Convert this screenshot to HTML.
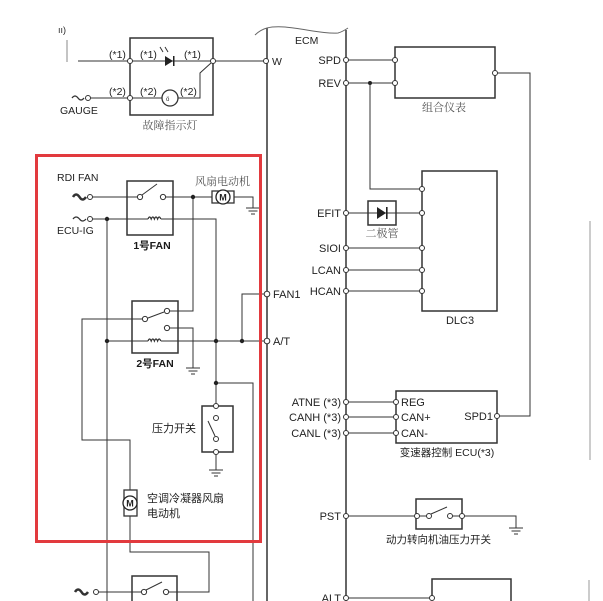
<!DOCTYPE html>
<html><head><meta charset="utf-8"><style>
html,body{margin:0;padding:0;background:#fff;}
svg{display:block;}
text{font-family:"Liberation Sans","Noto Sans CJK SC",sans-serif;fill:#222;}
.cn{font-family:"Liberation Serif","Noto Serif CJK SC",serif;fill:#555;font-size:11px;}
.cs{font-family:"Liberation Sans","Noto Sans CJK SC",sans-serif;fill:#222;font-size:10.5px;font-weight:normal;}
.cb{font-family:"Liberation Sans","Noto Sans CJK SC",sans-serif;fill:#1a1a1a;font-size:10.5px;font-weight:bold;}
</style></head><body>
<svg width="603" height="601" viewBox="0 0 603 601" xmlns="http://www.w3.org/2000/svg">
<rect width="603" height="601" fill="#fff"/>
<g stroke="#333" stroke-width="1" fill="none">
<!-- top section -->
<line x1="67" y1="40" x2="67" y2="62" stroke="#888"/>
<line x1="78" y1="61" x2="266" y2="61"/>
<rect x="130" y="38" width="83" height="77" stroke-width="1.5"/>
<line x1="88" y1="98" x2="162" y2="98"/>
<circle cx="170" cy="98" r="8" stroke-width="1.3"/>
<polyline points="178,98 200,98 200,73 211,63"/>
<path d="M72,98 q3,-4 6,0 q3,4 6,0" stroke-width="1.3"/>
<path d="M163,52 l-3,-5 M168,52 l-3,-5" stroke-width="1"/>
<!-- ECM -->
<line x1="267" y1="28" x2="267" y2="601" stroke-width="1.5"/>
<line x1="346" y1="30" x2="346" y2="601" stroke-width="1.5"/>
<path d="M255,35 C262,28 270,26 285,27 C305,29 325,34 338,33 C342,32 345,30 348,28" stroke="#666"/>
<!-- right side -->
<line x1="346" y1="60" x2="395" y2="60"/>
<line x1="346" y1="83" x2="395" y2="83"/>
<rect x="395" y="47" width="100" height="51" stroke-width="1.5"/>
<polyline points="495,73 530,73 530,416 497,416"/>
<polyline points="370,83 370,189 422,189"/>
<rect x="422" y="171" width="75" height="140" stroke-width="1.5"/>
<line x1="346" y1="213" x2="422" y2="213"/>
<rect x="368" y="201" width="28" height="24" stroke-width="1.5" fill="none"/>
<line x1="346" y1="248" x2="422" y2="248"/>
<line x1="346" y1="270" x2="422" y2="270"/>
<line x1="346" y1="291" x2="422" y2="291"/>
<rect x="396" y="391" width="101" height="52" stroke-width="1.5"/>
<line x1="346" y1="402" x2="396" y2="402"/>
<line x1="346" y1="417" x2="396" y2="417"/>
<line x1="346" y1="433" x2="396" y2="433"/>
<line x1="346" y1="516" x2="417" y2="516"/>
<rect x="416" y="499" width="46" height="30" stroke-width="1.5"/>
<line x1="417" y1="516" x2="429" y2="516"/>
<line x1="450" y1="516" x2="462" y2="516"/>
<line x1="431" y1="514" x2="447" y2="507"/>
<polyline points="462,516 516,516 516,528"/>
<line x1="509" y1="528" x2="523" y2="528"/><line x1="511.5" y1="531" x2="520.5" y2="531"/><line x1="514" y1="534" x2="518" y2="534"/>
<line x1="346" y1="598" x2="432" y2="598"/>
<polyline points="432,598 432,579 511,579 511,601" stroke-width="1.5"/>
<line x1="590" y1="221" x2="590" y2="460" stroke="#999"/>
<line x1="589" y1="580" x2="589" y2="601" stroke="#999"/>
<!-- left subsystem -->
<path d="M73,197 q3,-5 6.5,0 q3,5 6.5,0" stroke-width="2.5"/>
<line x1="90" y1="197" x2="140" y2="197"/>
<rect x="127" y="181" width="46" height="54" stroke-width="1.5"/>
<line x1="142" y1="195" x2="157" y2="184"/>
<line x1="163" y1="197" x2="212" y2="197"/>
<rect x="212" y="191" width="22" height="12" stroke-width="1.3"/>
<polyline points="234,197 253,197 253,208"/>
<line x1="246" y1="208" x2="260" y2="208"/><line x1="248.5" y1="211" x2="257.5" y2="211"/><line x1="251" y1="214" x2="255" y2="214"/>
<path d="M73,219 q3,-4 6.5,0 q3,4 6.5,0" stroke-width="1.3"/>
<line x1="90" y1="219" x2="148" y2="219"/>
<path d="M148,219 q1.6,-4 3.2,0 q1.6,-4 3.2,0 q1.6,-4 3.2,0 q1.6,-4 3.2,0" stroke-width="1.3"/>
<polyline points="161,219 216,219 216,406"/>
<line x1="107" y1="219" x2="107" y2="601"/>
<polyline points="193,197 193,311 167,311"/>
<rect x="132" y="301" width="46" height="52" stroke-width="1.5"/>
<line x1="148" y1="318" x2="164" y2="312"/>
<polyline points="145,319 82,319 82,440 130,440 130,490"/>
<polyline points="167,328 193,328 193,368"/>
<line x1="186" y1="368" x2="200" y2="368"/><line x1="188.5" y1="371" x2="197.5" y2="371"/><line x1="191" y1="374" x2="195" y2="374"/>
<line x1="107" y1="341" x2="148" y2="341"/>
<path d="M148,341 q1.6,-4 3.2,0 q1.6,-4 3.2,0 q1.6,-4 3.2,0 q1.6,-4 3.2,0" stroke-width="1.3"/>
<line x1="161" y1="341" x2="267" y2="341"/>
<polyline points="242,341 242,294 267,294"/>
<polyline points="216,383 253,383 253,601"/>
<rect x="202" y="406" width="31" height="46" stroke-width="1.5"/>
<line x1="208" y1="421" x2="215" y2="436"/>
<line x1="216" y1="452" x2="216" y2="470"/>
<line x1="209" y1="470" x2="223" y2="470"/><line x1="211.5" y1="473" x2="220.5" y2="473"/><line x1="214" y1="476" x2="218" y2="476"/>
<rect x="124" y="490" width="13" height="26" stroke-width="1.3"/>
<polyline points="130,516 130,552 209,552 209,592 166,592"/>
<rect x="132" y="576" width="45" height="30" stroke-width="1.5"/>
<path d="M75,592 q3,-5 6.5,0 q3,5 6.5,0" stroke-width="2.5"/>
<line x1="96" y1="592" x2="144" y2="592"/>
<line x1="146" y1="590" x2="162" y2="582"/>
</g>
<!-- filled bits -->
<g fill="#222" stroke="none">
<polygon points="165,56 165,66 173,61"/><rect x="173" y="56" width="1.5" height="10"/>
<polygon points="377,207 377,219 386,213"/><rect x="386" y="207" width="1.6" height="12"/>
<circle cx="370" cy="83" r="2"/>
<circle cx="193" cy="197" r="2.2"/>
<circle cx="107" cy="219" r="2.2"/>
<circle cx="107" cy="341" r="2.2"/>
<circle cx="216" cy="341" r="2.2"/>
<circle cx="242" cy="341" r="2.2"/>
<circle cx="216" cy="383" r="2.2"/>
</g>
<!-- motor circles -->
<g stroke="#222" stroke-width="1.3" fill="#fff">
<circle cx="223" cy="197" r="7"/>
<circle cx="130" cy="503" r="7"/>
</g>
<!-- open terminals -->
<g stroke="#333" stroke-width="1" fill="#fff">
<circle cx="130" cy="61" r="2.5"/><circle cx="213" cy="61" r="2.5"/><circle cx="266" cy="61" r="2.5"/>
<circle cx="130" cy="98" r="2.5"/><circle cx="88" cy="98" r="2.5"/>
<circle cx="346" cy="60" r="2.5"/><circle cx="346" cy="83" r="2.5"/>
<circle cx="395" cy="60" r="2.5"/><circle cx="395" cy="83" r="2.5"/><circle cx="495" cy="73" r="2.5"/>
<circle cx="422" cy="189" r="2.5"/><circle cx="422" cy="213" r="2.5"/><circle cx="422" cy="248" r="2.5"/><circle cx="422" cy="270" r="2.5"/><circle cx="422" cy="291" r="2.5"/>
<circle cx="346" cy="213" r="2.5"/><circle cx="346" cy="248" r="2.5"/><circle cx="346" cy="270" r="2.5"/><circle cx="346" cy="291" r="2.5"/>
<circle cx="346" cy="402" r="2.5"/><circle cx="346" cy="417" r="2.5"/><circle cx="346" cy="433" r="2.5"/>
<circle cx="396" cy="402" r="2.5"/><circle cx="396" cy="417" r="2.5"/><circle cx="396" cy="433" r="2.5"/><circle cx="497" cy="416" r="2.5"/>
<circle cx="346" cy="516" r="2.5"/><circle cx="417" cy="516" r="2.5"/><circle cx="429" cy="516" r="2.5"/><circle cx="450" cy="516" r="2.5"/><circle cx="462" cy="516" r="2.5"/>
<circle cx="346" cy="598" r="2.5"/><circle cx="432" cy="598" r="2.5"/>
<circle cx="90" cy="197" r="2.5"/><circle cx="90" cy="219" r="2.5"/>
<circle cx="140" cy="197" r="2.6"/><circle cx="163" cy="197" r="2.6"/>
<circle cx="145" cy="319" r="2.6"/><circle cx="167" cy="311" r="2.6"/><circle cx="167" cy="328" r="2.6"/>
<circle cx="267" cy="294" r="2.8"/><circle cx="267" cy="341" r="2.8"/>
<circle cx="216" cy="406" r="2.5"/><circle cx="216" cy="418" r="2.5"/><circle cx="216" cy="439" r="2.5"/><circle cx="216" cy="452" r="2.5"/>
<circle cx="96" cy="592" r="2.5"/><circle cx="144" cy="592" r="2.6"/><circle cx="166" cy="592" r="2.6"/>
</g>
<!-- red box -->
<rect x="36.5" y="155.5" width="224" height="386" fill="none" stroke="#e23a3e" stroke-width="3"/>
<!-- labels -->
<g font-size="10.5">
<text x="58" y="33" fill="#888" font-size="9">ıı)</text>
<text x="109" y="58">(*1)</text><text x="140" y="58">(*1)</text><text x="184" y="58">(*1)</text>
<text x="109" y="95">(*2)</text><text x="140" y="95">(*2)</text><text x="180" y="95">(*2)</text>
<text x="166" y="101" font-size="6">ö</text>
<text x="60" y="114">GAUGE</text>
<text x="272" y="65">W</text>
<text x="295" y="44">ECM</text>
<g text-anchor="end" font-size="11">
<text x="341" y="64">SPD</text><text x="341" y="87">REV</text>
<text x="341" y="217">EFIT</text><text x="341" y="252">SIOI</text><text x="341" y="274">LCAN</text><text x="341" y="295">HCAN</text>
<text x="341" y="406">ATNE (*3)</text><text x="341" y="421">CANH (*3)</text><text x="341" y="437">CANL (*3)</text>
<text x="341" y="520">PST</text><text x="341" y="602">ALT</text>
<text x="493" y="420">SPD1</text>
</g>
<g font-size="11">
<text x="401" y="406">REG</text><text x="401" y="421">CAN+</text><text x="401" y="437">CAN-</text>
<text x="460" y="324" text-anchor="middle">DLC3</text>
<text x="273" y="298">FAN1</text>
<text x="273" y="345">A/T</text>
</g>
<text x="57" y="181" fill="#444">RDI FAN</text>
<text x="57" y="234" fill="#444">ECU-IG</text>
<text x="223" y="200.5" text-anchor="middle" font-size="9" font-weight="bold">M</text>
<text x="130" y="506.5" text-anchor="middle" font-size="9" font-weight="bold">M</text>
</g>
<text class="cn" x="170" y="129" text-anchor="middle">故障指示灯</text>
<text class="cn" x="444" y="111" text-anchor="middle">组合仪表</text>
<text class="cn" x="382" y="237" text-anchor="middle">二极管</text>
<text class="cs" x="447" y="456" text-anchor="middle">变速器控制 ECU(*3)</text>
<text class="cs" x="386" y="543">动力转向机油压力开关</text>
<text class="cn" x="195" y="185">风扇电动机</text>
<text class="cb" x="152" y="249" text-anchor="middle">1号FAN</text>
<text class="cb" x="155" y="367" text-anchor="middle">2号FAN</text>
<text class="cs" x="152" y="432" style="font-size:11px">压力开关</text>
<text class="cs" x="147" y="502" style="font-size:11px">空调冷凝器风扇</text>
<text class="cs" x="147" y="517" style="font-size:11px">电动机</text>
</svg>
</body></html>
